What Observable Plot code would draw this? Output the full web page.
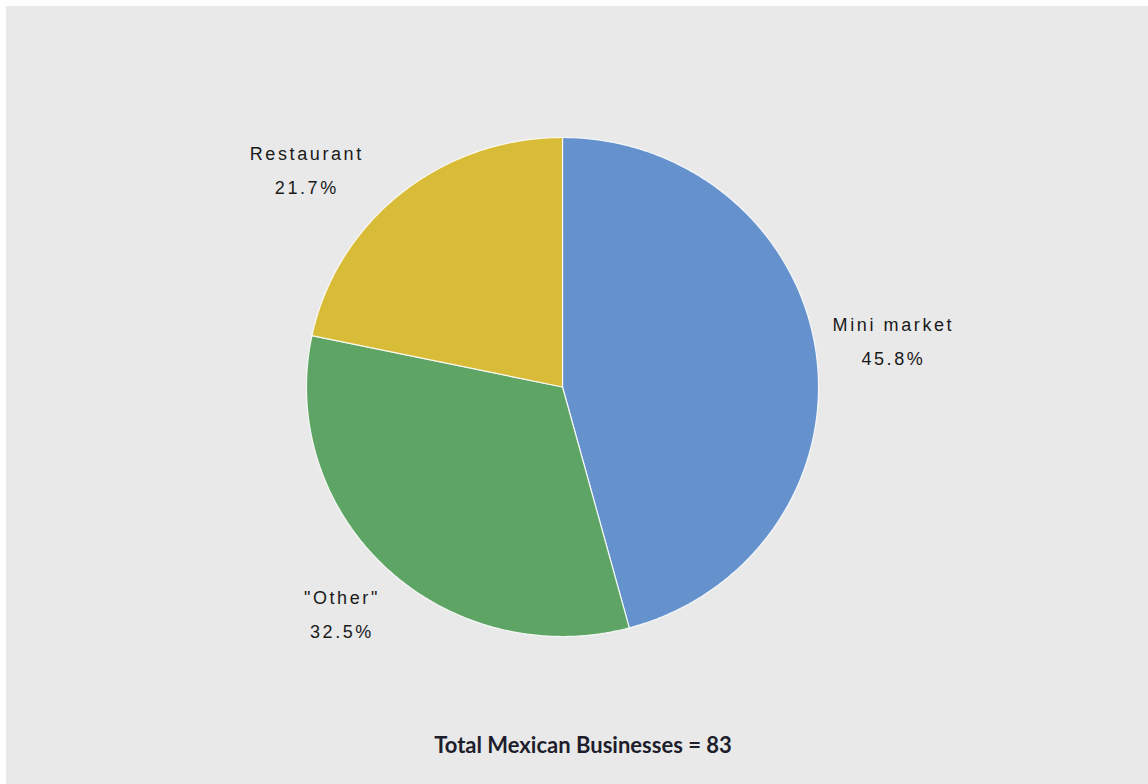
<!DOCTYPE html>
<html>
<head>
<meta charset="utf-8">
<script src="https://cdn.jsdelivr.net/npm/d3@7"></script>
<script src="https://cdn.jsdelivr.net/npm/@observablehq/plot@0.6"></script>
<style>
  html, body { margin: 0; padding: 0; background: #ffffff; }
  #frame { position: absolute; left: 6px; top: 6px; width: 1142px; height: 778px; background: #e9e9e9; }
  #chart svg { display: block; }
  #caption { position: absolute; left: 0; top: 725px; width: 1154px; text-align: center;
    font-family: Lato, "Open Sans", sans-serif; font-weight: bold; font-size: 22px; color: #1e1e2c; }
</style>
</head>
<body>
<div id="frame">
  <div id="chart"></div>
  <div id="caption"></div>
</div>
<script>
// ---- data ----
const categories = ["Mini market", "\"Other\"", "Restaurant"];
const percents = [45.8, 32.5, 21.7];
const colors = ["#6592cd", "#5ea465", "#d8bb37"];
const totalBusinesses = 83;
const captionText = "Total Mexican Businesses = " + totalBusinesses;

// ---- build slice geometry (clockwise from 12 o'clock) ----
const total = d3.sum(percents);
const slices = [];
let acc = 0;
categories.forEach((c, i) => {
  const a0 = acc / total * 2 * Math.PI;
  acc += percents[i];
  const a1 = acc / total * 2 * Math.PI;
  slices.push({category: c, value: percents[i], color: colors[i], a0, a1, mid: (a0 + a1) / 2});
});
const polyPoints = [];
slices.forEach(s => {
  polyPoints.push({category: s.category, color: s.color, x: 0, y: 0});
  const n = Math.max(2, Math.ceil((s.a1 - s.a0) / (Math.PI / 360)));
  for (let k = 0; k <= n; k++) {
    const a = s.a0 + (s.a1 - s.a0) * k / n;
    polyPoints.push({category: s.category, color: s.color, x: Math.sin(a), y: Math.cos(a)});
  }
});
const labelR = 1.3;
const labels = slices.map(s => ({
  category: s.category,
  text: s.category + "\n" + s.value.toFixed(1) + "%",
  x: labelR * Math.sin(s.mid),
  y: labelR * Math.cos(s.mid)
}));

const labelStyle = {
  fontFamily: "'Liberation Sans', Arial, sans-serif",
  fontSize: 18,
  fill: "#1a1a1a",
  lineHeight: 1.9,
  textAnchor: "middle"
};

const plot = Plot.plot({
  width: 1142,
  height: 720,
  marginLeft: 300,
  marginRight: 330,
  marginTop: 131,
  marginBottom: 90,
  x: {domain: [-1, 1], axis: null},
  y: {domain: [-1, 1], axis: null},
  style: {background: "transparent", overflow: "visible"},
  marks: [
    Plot.line(polyPoints, {
      x: "x", y: "y", z: "category",
      fill: d => d.color,
      stroke: "#ffffff", strokeWidth: 1.2, strokeOpacity: 0.85,
      curve: "linear-closed"
    }),
    Plot.text(labels.filter(d => d.category === categories[0]), {x: "x", y: "y", text: "text", ...labelStyle, dx: 1, dy: -7}),
    Plot.text(labels.filter(d => d.category === categories[1]), {x: "x", y: "y", text: "text", ...labelStyle, dx: 8, dy: -13}),
    Plot.text(labels.filter(d => d.category === categories[2]), {x: "x", y: "y", text: "text", ...labelStyle, dx: -46, dy: 31})
  ]
});
plot.querySelectorAll("text").forEach(t => t.setAttribute("letter-spacing", "2.6"));
document.getElementById("chart").appendChild(plot);
document.getElementById("caption").textContent = captionText;
</script>
</body>
</html>
